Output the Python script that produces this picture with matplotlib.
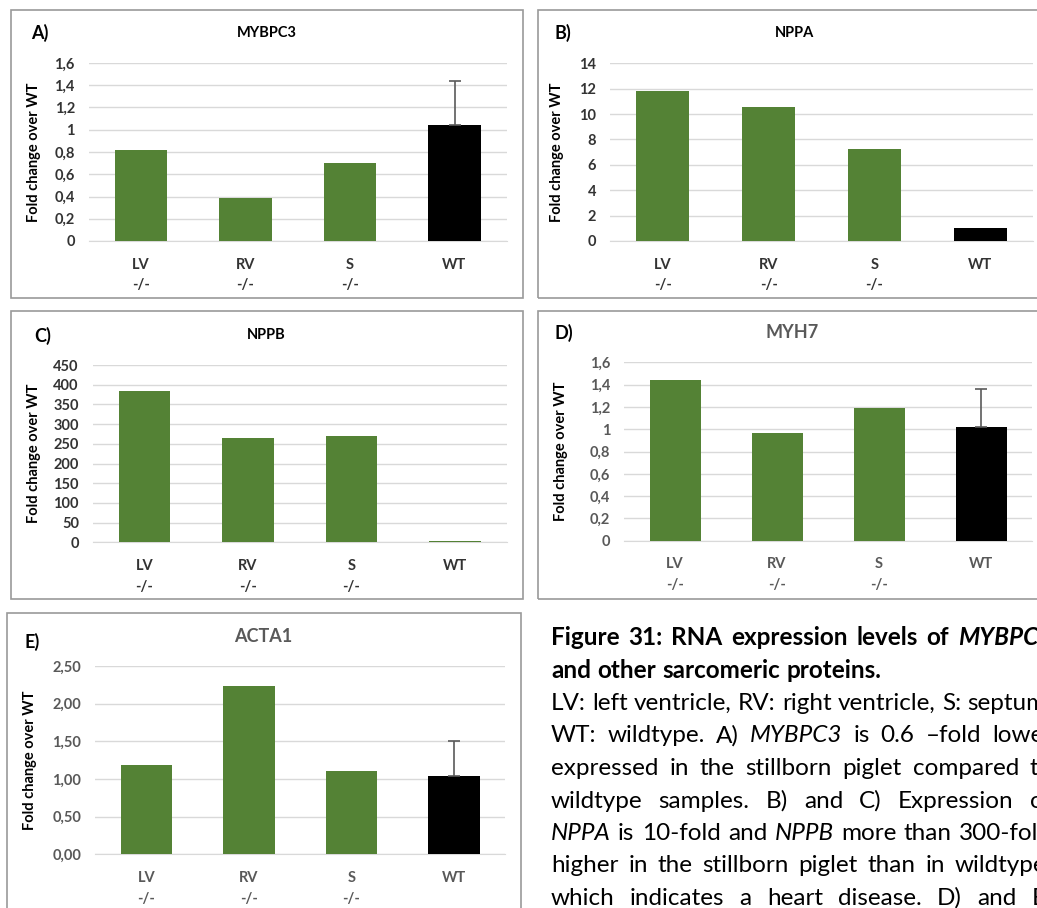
import matplotlib
matplotlib.use("Agg")
import matplotlib.pyplot as plt
from matplotlib.patches import Rectangle
from matplotlib.ticker import FuncFormatter

# data
categories = ["LV\n-/-", "RV\n-/-", "S\n-/-", "WT"]
mybpc3 = [0.82, 0.39, 0.70, 1.04]
mybpc3_err = [0, 0, 0, 0.40]
nppa = [11.82, 10.58, 7.25, 1.05]
nppa_err = [0, 0, 0, 0]
nppb = [385, 264, 271, 4]
nppb_err = [0, 0, 0, 0]
myh7 = [1.44, 0.97, 1.19, 1.02]
myh7_err = [0, 0, 0, 0.34]
acta1 = [1.18, 2.24, 1.11, 1.04]
acta1_err = [0, 0, 0, 0.46]

W, H = 1037, 908
GREEN = "#548235"
GRID = "#d9d9d9"
FONT = "Lato"

plt.rcParams["font.family"] = [FONT, "DejaVu Sans"]

fig = plt.figure(figsize=(W / 100, H / 100), dpi=100)


def fx(x):
    return x / W


def fy(y):
    return 1 - y / H


def box(x0, y0, x1, y1):
    fig.patches.append(Rectangle((fx(x0), fy(y1)), fx(x1 - x0), (y1 - y0) / H,
                                 transform=fig.transFigure, fill=False,
                                 edgecolor="#9a9a9a", lw=1.2))


def comma(fmt):
    return FuncFormatter(lambda v, p: (fmt % v).replace(".", ","))


def panel(rect, vals, errs, bar_colors, ymax, step, fmt, title, label,
          title_pos, label_pos, title_size, title_color, tick_color, ylab_off):
    x0, y0, x1, y1 = rect
    ax = fig.add_axes([fx(x0), fy(y1), fx(x1 - x0), (y1 - y0) / H])
    xs = range(len(vals))
    ax.bar(xs, vals, width=0.5, color=bar_colors, zorder=3)
    for i, e in enumerate(errs):
        if e > 0:
            ax.errorbar(i, vals[i], yerr=[[0], [e]], fmt="none", ecolor="#5a5a5a",
                        elinewidth=1.2, capsize=4, capthick=1.2, zorder=4)
    ax.set_xlim(-0.5, len(vals) - 0.5)
    ax.set_ylim(0, ymax)
    ticks = [i * step for i in range(int(round(ymax / step)) + 1)]
    ax.set_yticks(ticks)
    ax.yaxis.set_major_formatter(comma(fmt))
    ax.set_xticks(list(xs))
    ax.set_xticklabels(categories, linespacing=1.6)
    ax.grid(axis="y", color=GRID, lw=1, zorder=0)
    for s in ["top", "right", "left"]:
        ax.spines[s].set_visible(False)
    ax.spines["bottom"].set_color(GRID)
    ax.tick_params(length=0)
    ax.tick_params(axis="y", pad=10, labelsize=10.5, labelcolor=tick_color)
    ax.tick_params(axis="x", pad=12, labelsize=10.5, labelcolor=tick_color)
    for t in ax.get_xticklabels() + ax.get_yticklabels():
        t.set_fontweight("bold")
    ax.set_ylabel("Fold change over WT", fontsize=10.5, fontweight="bold")
    ax.yaxis.set_label_coords(-ylab_off / (x1 - x0), 0.5)
    fig.text(fx(title_pos[0]), fy(title_pos[1]), title, ha="center", va="center",
             fontsize=title_size, fontweight="bold", color=title_color)
    fig.text(fx(label_pos[0]), fy(label_pos[1]), label, ha="left", va="center",
             fontsize=13, fontweight="bold", color="black")
    return ax


blk = [GREEN, GREEN, GREEN, "black"]
grn = [GREEN] * 4

box(11, 10, 523, 298)
box(538, 10, 1045, 298)
box(11, 311, 523, 599)
box(538, 311, 1045, 599)
box(7, 613, 521, 915)

panel((88.75, 63, 506.75, 241), mybpc3, mybpc3_err, blk, 1.6, 0.2, "%g",
      "MYBPC3", "A)", (267, 33), (31, 33), 10.5, "black", "#333333", 48)
panel((610, 63.3, 1033, 241), nppa, nppa_err, blk, 14, 2, "%g",
      "NPPA", "B)", (794, 33), (554, 33), 10.5, "black", "#333333", 46)
panel((92.75, 365, 506.75, 542.3), nppb, nppb_err, grn, 450, 50, "%g",
      "NPPB", "C)", (266, 335), (34, 336), 10.5, "black", "#333333", 52)
panel((624, 362.3, 1032, 540.7), myh7, myh7_err, blk, 1.6, 0.2, "%g",
      "MYH7", "D)", (792, 333), (555, 333), 13, "#595959", "#595959", 56)
panel((95.25, 666, 505.25, 854.3), acta1, acta1_err, blk, 2.5, 0.5, "%.2f",
      "ACTA1", "E)", (263, 636), (25, 642), 13, "#595959", "#595959", 58)

# caption, justified to a right margin beyond the crop
caption = [
    ([("Figure", "bold", "normal"), ("31:", "bold", "normal"), ("RNA", "bold", "normal"),
      ("expression", "bold", "normal"), ("levels", "bold", "normal"), ("of", "bold", "normal"),
      ("MYBPC3", "bold", "italic")], True),
    ([("and", "bold", "normal"), ("other", "bold", "normal"), ("sarcomeric", "bold", "normal"),
      ("proteins.", "bold", "normal")], False),
    ([(w, "normal", "normal") for w in "LV: left ventricle, RV: right ventricle, S: septum,".split()], True),
    ([("WT:", "normal", "normal"), ("wildtype.", "normal", "normal"), ("A)", "normal", "normal"),
      ("MYBPC3", "normal", "italic"), ("is", "normal", "normal"), ("0.6", "normal", "normal"),
      ("\u2013fold", "normal", "normal"), ("lower", "normal", "normal")], True),
    ([(w, "normal", "normal") for w in "expressed in the stillborn piglet compared to".split()], True),
    ([(w, "normal", "normal") for w in "wildtype samples. B) and C) Expression of".split()], True),
    ([("NPPA", "normal", "italic"), ("is", "normal", "normal"), ("10-fold", "normal", "normal"),
      ("and", "normal", "normal"), ("NPPB", "normal", "italic"), ("more", "normal", "normal"),
      ("than", "normal", "normal"), ("300-fold", "normal", "normal")], True),
    ([(w, "normal", "normal") for w in "higher in the stillborn piglet than in wildtype,".split()], True),
    ([(w, "normal", "normal") for w in "which indicates a heart disease. D) and E)".split()], True),
]

renderer = fig.canvas.get_renderer()
CAP_SIZE = 17.5
X0, X1 = 551, 1052

sp = fig.text(0, 0, "x x", fontsize=CAP_SIZE)
nsp = fig.text(0, 0, "xx", fontsize=CAP_SIZE)
space = sp.get_window_extent(renderer).width - nsp.get_window_extent(renderer).width
sp.remove()
nsp.remove()

for i, (words, just) in enumerate(caption):
    base = 645 + i * 32.5
    texts = []
    for w, wt, st in words:
        t = fig.text(0, fy(base), w, fontsize=CAP_SIZE, fontweight=wt, fontstyle=st,
                     va="baseline", ha="left", color="black")
        texts.append(t)
    widths = [t.get_window_extent(renderer).width for t in texts]
    if just and len(texts) > 1:
        gap = (X1 - X0 - sum(widths)) / (len(texts) - 1)
    else:
        gap = space
    x = X0
    for t, wd in zip(texts, widths):
        t.set_x(fx(x))
        x += wd + gap

fig.savefig("out.png", dpi=100)
